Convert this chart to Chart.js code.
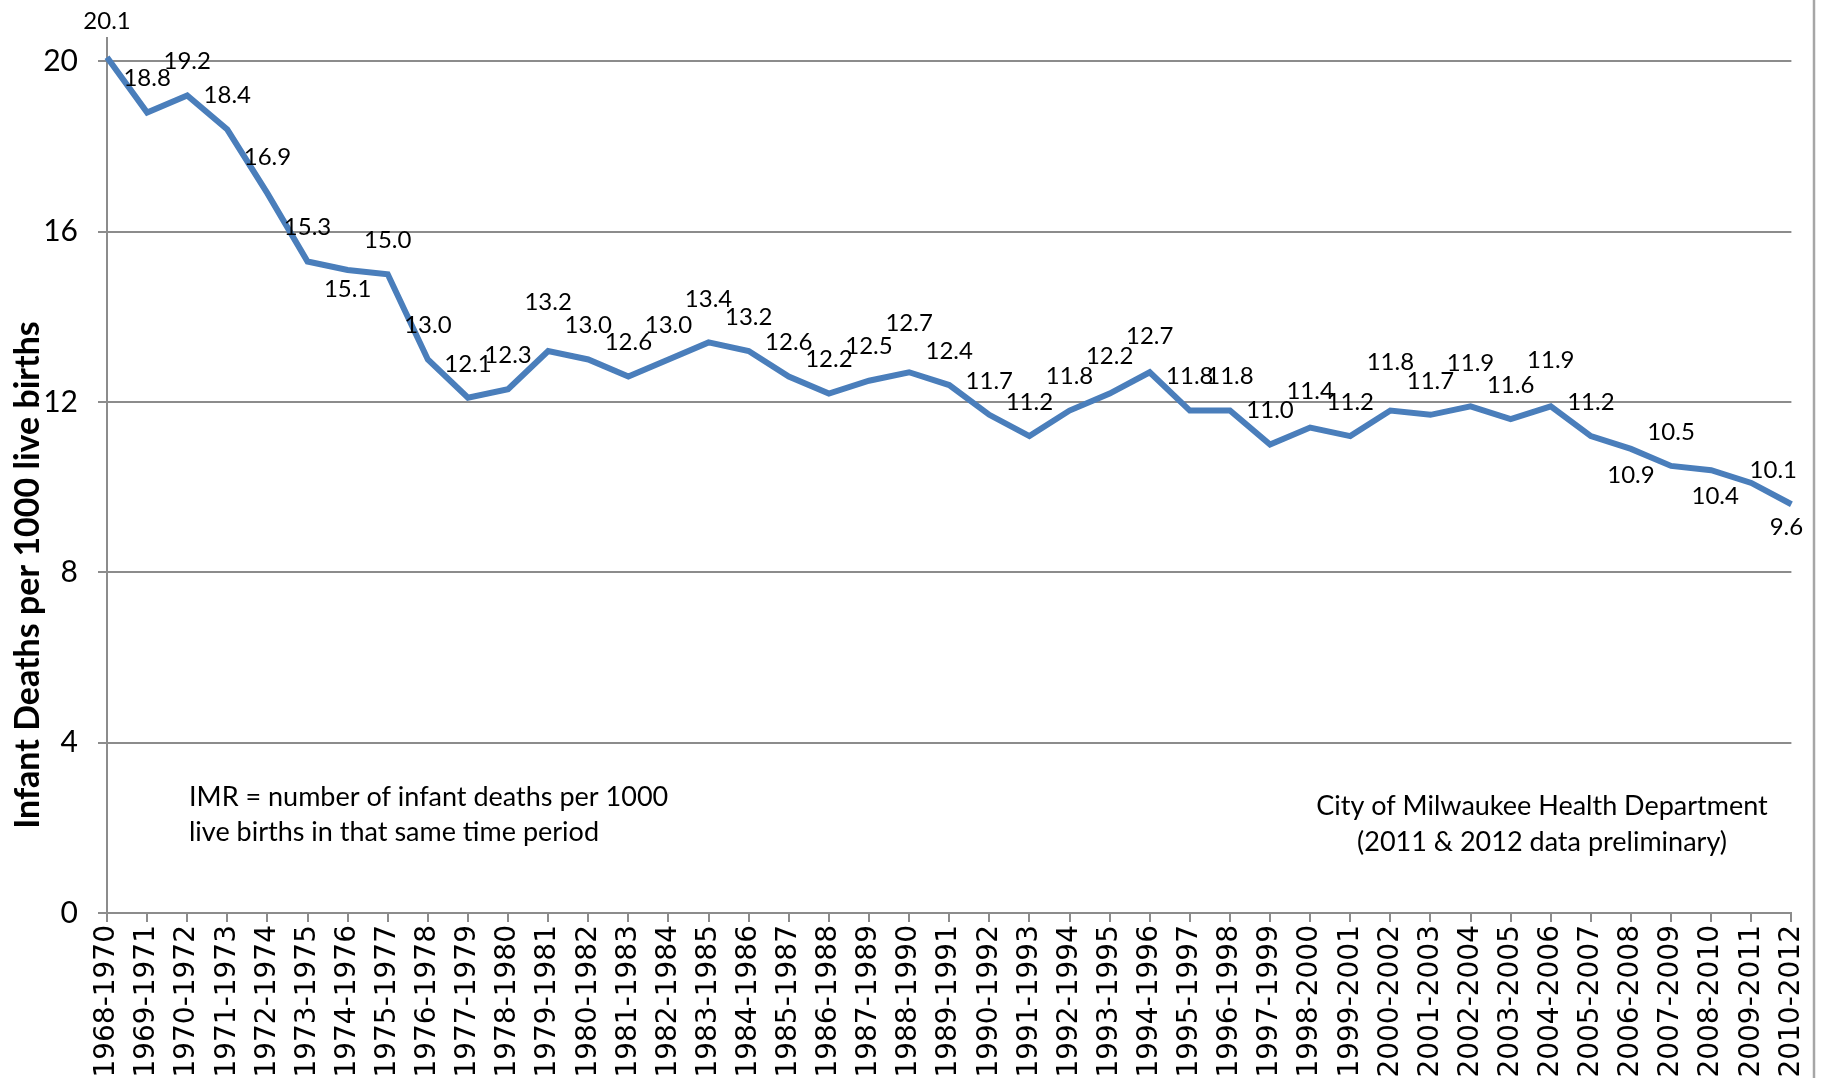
<!DOCTYPE html>
<html>
<head>
<meta charset="utf-8">
<script src="https://cdn.jsdelivr.net/npm/chart.js@4.4.0/dist/chart.umd.min.js"></script>
<style>
  html, body { margin: 0; padding: 0; background: #fff; }
  #wrap { width: 1828px; height: 1078px; position: relative; }
</style>
</head>
<body>
<div id="wrap"><canvas id="imrChart"></canvas></div>
<script>
// periods (3-year rolling) and infant mortality rate per 1000 live births
const periods = [
  '1968-1970', '1969-1971', '1970-1972', '1971-1973', '1972-1974', '1973-1975',
  '1974-1976', '1975-1977', '1976-1978', '1977-1979', '1978-1980', '1979-1981',
  '1980-1982', '1981-1983', '1982-1984', '1983-1985', '1984-1986', '1985-1987',
  '1986-1988', '1987-1989', '1988-1990', '1989-1991', '1990-1992', '1991-1993',
  '1992-1994', '1993-1995', '1994-1996', '1995-1997', '1996-1998', '1997-1999',
  '1998-2000', '1999-2001', '2000-2002', '2001-2003', '2002-2004', '2003-2005',
  '2004-2006', '2005-2007', '2006-2008', '2007-2009', '2008-2010', '2009-2011',
  '2010-2012'
];
const imr = [
  20.1, 18.8, 19.2, 18.4, 16.9, 15.3, 15.1, 15.0, 13.0, 12.1, 12.3, 13.2,
  13.0, 12.6, 13.0, 13.4, 13.2, 12.6, 12.2, 12.5, 12.7, 12.4, 11.7, 11.2,
  11.8, 12.2, 12.7, 11.8, 11.8, 11.0, 11.4, 11.2, 11.8, 11.7, 11.9, 11.6,
  11.9, 11.2, 10.9, 10.5, 10.4, 10.1, 9.6
];
const yTicks = [0, 4, 8, 12, 16, 20];

const yTitle = 'Infant Deaths per 1000 live births';
const noteLeft = ['IMR = number of infant deaths per 1000', 'live births in that same time period'];
const noteRight = ['City of Milwaukee Health Department', '(2011 & 2012 data preliminary)'];

// where each data label sits relative to its point (default: above)
const labelDefault = [0, -34];
const labelShift = {
  0: [0, -36], 4: [0, -36], 6: [0, 19], 11: [0, -49], 15: [0, -43], 20: [0, -49],
  25: [0, -37], 26: [0, -36], 30: [0, -36], 32: [0, -48], 34: [0, -43], 36: [0, -46],
  38: [0, 26], 40: [4, 26], 41: [22, -13], 42: [-5, 23]
};

const gridGray = '#8c8c8c';

const extras = {
  id: 'extras',
  afterDatasetsDraw(chart) {
    const ctx = chart.ctx;
    const meta = chart.getDatasetMeta(0);
    ctx.save();
    ctx.fillStyle = '#000';
    ctx.textAlign = 'center';
    ctx.textBaseline = 'middle';
    ctx.font = '24px Lato';
    meta.data.forEach(function(pt, i) {
      const s = labelShift[i] || labelDefault;
      ctx.fillText(imr[i].toFixed(1), pt.x + s[0], pt.y + s[1]);
    });

    // axis title
    ctx.save();
    ctx.translate(28, 575);
    ctx.rotate(-Math.PI / 2);
    ctx.font = 'bold 34px Lato';
    ctx.fillText(yTitle, 0, 0);
    ctx.restore();

    // notes
    ctx.font = '27px Lato';
    ctx.textAlign = 'left';
    ctx.fillText(noteLeft[0], 189, 797);
    ctx.fillText(noteLeft[1], 189, 832);
    ctx.textAlign = 'center';
    ctx.fillText(noteRight[0], 1542, 806);
    ctx.fillText(noteRight[1], 1542, 842);

    // chart frame edge on the right
    ctx.strokeStyle = '#a6a6a6';
    ctx.lineWidth = 2.5;
    ctx.beginPath();
    ctx.moveTo(1814, 0);
    ctx.lineTo(1814, 1078);
    ctx.stroke();
    ctx.restore();
  }
};

new Chart(document.getElementById('imrChart'), {
  type: 'line',
  data: {
    labels: periods,
    datasets: [{
      data: imr,
      borderColor: '#4a7ebb',
      borderWidth: 6,
      pointRadius: 0,
      tension: 0,
      fill: false,
      clip: false
    }]
  },
  options: {
    responsive: true,
    maintainAspectRatio: false,
    animation: false,
    layout: { padding: { left: 0, top: 33, right: 34, bottom: 0 } },
    plugins: { legend: { display: false }, tooltip: { enabled: false } },
    scales: {
      x: {
        offset: false,
        grid: { drawOnChartArea: false, color: gridGray, lineWidth: 2, tickLength: 9 },
        border: { color: gridGray, width: 2 },
        ticks: {
          autoSkip: false, maxRotation: 90, minRotation: 90, padding: 3,
          color: '#000', font: { family: 'DejaVu Sans', size: 28 }
        },
        afterFit(scale) { scale.height = 165; }
      },
      y: {
        min: 0,
        max: 20.55,
        grid: { color: gridGray, lineWidth: 2, tickLength: 9 },
        border: { color: gridGray, width: 2 },
        afterBuildTicks(scale) { scale.ticks = yTicks.map(v => ({ value: v })); },
        ticks: { color: '#000', padding: 20, font: { family: 'Lato', size: 30 } },
        afterFit(scale) { scale.width = 107; }
      }
    }
  },
  plugins: [extras]
});
</script>
</body>
</html>
